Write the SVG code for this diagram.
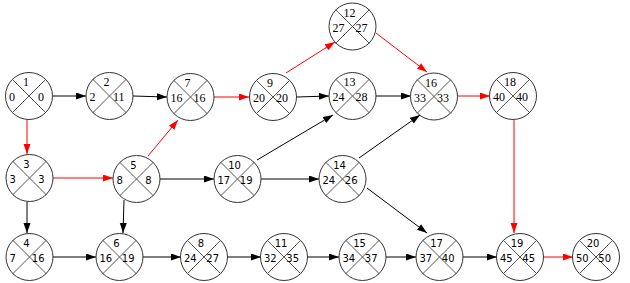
<svg xmlns="http://www.w3.org/2000/svg" xmlns:xlink="http://www.w3.org/1999/xlink" width="630" height="283" viewBox="0 0 630 283">
<style>
.c{fill:#fff;stroke:#333;stroke-width:1}
.d{stroke:#555;stroke-width:1}
text{fill:#000}
.s text{font-family:"Liberation Serif","Times New Roman",serif;font-size:12px}
.n text{font-family:"DejaVu Sans",Verdana,sans-serif;font-size:10px}
.t{text-anchor:middle}
.l{text-anchor:start}
.r{text-anchor:end}
.k{stroke:#000;stroke-width:1;fill:none;marker-end:url(#ak)}
.e{stroke:#f00;stroke-width:1;fill:none;marker-end:url(#ar)}
</style>
<defs>
<marker id="ak" markerUnits="userSpaceOnUse" markerWidth="10" markerHeight="8" refX="10" refY="3.5" orient="auto"><path d="M0,0L10,3.5L0,7z" fill="#000"/></marker>
<marker id="ar" markerUnits="userSpaceOnUse" markerWidth="10" markerHeight="8" refX="10" refY="3.5" orient="auto"><path d="M0,0L10,3.5L0,7z" fill="#f00"/></marker>
<g id="shape"><circle class="c" r="23.5"/><line class="d" x1="-17" y1="-17" x2="17" y2="17"/><line class="d" x1="17" y1="-17" x2="-17" y2="17"/></g>
</defs>
<rect width="630" height="283" fill="#fff"/>
<g id="connectors">
<line class="k" x1="53" y1="96" x2="86" y2="96"/>
<line class="k" x1="133" y1="96" x2="167" y2="97"/>
<line class="e" x1="214" y1="97" x2="249" y2="97"/>
<line class="e" x1="286" y1="73" x2="335" y2="42"/>
<line class="k" x1="297" y1="97" x2="329" y2="96"/>
<line class="e" x1="376" y1="33" x2="427" y2="72"/>
<line class="k" x1="376" y1="96" x2="411" y2="96"/>
<line class="e" x1="457" y1="96" x2="490" y2="96"/>
<line class="e" x1="514" y1="120" x2="514" y2="233"/>
<line class="e" x1="543" y1="257" x2="573" y2="257"/>
<line class="e" x1="27" y1="120" x2="27" y2="154"/>
<line class="e" x1="53" y1="178" x2="113" y2="178"/>
<line class="e" x1="148" y1="156" x2="178" y2="120"/>
<line class="k" x1="27" y1="202" x2="27" y2="233"/>
<line class="k" x1="124" y1="200" x2="123" y2="233"/>
<line class="k" x1="53" y1="257" x2="96" y2="257"/>
<line class="k" x1="143" y1="257" x2="181" y2="257"/>
<line class="k" x1="227" y1="257" x2="261" y2="257"/>
<line class="k" x1="307" y1="257" x2="339" y2="257"/>
<line class="k" x1="386" y1="257" x2="416" y2="257"/>
<line class="k" x1="463" y1="257" x2="497" y2="257"/>
<line class="k" x1="160" y1="179" x2="214" y2="179"/>
<line class="k" x1="261" y1="179" x2="319" y2="179"/>
<line class="k" x1="257" y1="160" x2="333" y2="115"/>
<line class="k" x1="359" y1="158" x2="420" y2="115"/>
<line class="k" x1="367" y1="188" x2="427" y2="233"/>
</g>
<g id="n1" class="s" transform="translate(29,96)"><use xlink:href="#shape"/><text class="t" x="-3" y="-10">1</text><text class="l" x="-20" y="5">0</text><text class="r" x="15" y="5">0</text></g>
<g id="n2" class="s" transform="translate(109.5,96)"><use xlink:href="#shape"/><text class="t" x="-3" y="-10">2</text><text class="l" x="-20" y="5">2</text><text class="r" x="15" y="5">11</text></g>
<g id="n7" class="s" transform="translate(190.5,97)"><use xlink:href="#shape"/><text class="t" x="-3" y="-10">7</text><text class="l" x="-20" y="5">16</text><text class="r" x="15" y="5">16</text></g>
<g id="n9" class="s" transform="translate(273,97)"><use xlink:href="#shape"/><text class="t" x="-3" y="-10">9</text><text class="l" x="-20" y="5">20</text><text class="r" x="15" y="5">20</text></g>
<g id="n12" class="s" transform="translate(352.5,26.5)"><use xlink:href="#shape"/><text class="t" x="-3" y="-10">12</text><text class="l" x="-20" y="5">27</text><text class="r" x="15" y="5">27</text></g>
<g id="n13" class="s" transform="translate(352.5,96)"><use xlink:href="#shape"/><text class="t" x="-3" y="-10">13</text><text class="l" x="-20" y="5">24</text><text class="r" x="15" y="5">28</text></g>
<g id="n16" class="s" transform="translate(434,96.5)"><use xlink:href="#shape"/><text class="t" x="-3" y="-10">16</text><text class="l" x="-20" y="5">33</text><text class="r" x="15" y="5">33</text></g>
<g id="n18" class="s" transform="translate(513,96)"><use xlink:href="#shape"/><text class="t" x="-3" y="-10">18</text><text class="l" x="-20" y="5">40</text><text class="r" x="15" y="5">40</text></g>
<g id="n3" class="n" transform="translate(29.5,178)"><use xlink:href="#shape"/><text class="t" x="-3" y="-10">3</text><text class="l" x="-20" y="5">3</text><text class="r" x="15" y="5">3</text></g>
<g id="n5" class="n" transform="translate(136.5,179)"><use xlink:href="#shape"/><text class="t" x="-3" y="-10">5</text><text class="l" x="-20" y="5">8</text><text class="r" x="15" y="5">8</text></g>
<g id="n10" class="n" transform="translate(237.5,179)"><use xlink:href="#shape"/><text class="t" x="-3" y="-10">10</text><text class="l" x="-20" y="5">17</text><text class="r" x="15" y="5">19</text></g>
<g id="n14" class="n" transform="translate(342.5,179)"><use xlink:href="#shape"/><text class="t" x="-3" y="-10">14</text><text class="l" x="-20" y="5">24</text><text class="r" x="15" y="5">26</text></g>
<g id="n4" class="n" transform="translate(29.5,257)"><use xlink:href="#shape"/><text class="t" x="-3" y="-10">4</text><text class="l" x="-20" y="5">7</text><text class="r" x="15" y="5">16</text></g>
<g id="n6" class="n" transform="translate(119.5,257)"><use xlink:href="#shape"/><text class="t" x="-3" y="-10">6</text><text class="l" x="-20" y="5">16</text><text class="r" x="15" y="5">19</text></g>
<g id="n8" class="n" transform="translate(204,257)"><use xlink:href="#shape"/><text class="t" x="-3" y="-10">8</text><text class="l" x="-20" y="5">24</text><text class="r" x="15" y="5">27</text></g>
<g id="n11" class="n" transform="translate(284,257)"><use xlink:href="#shape"/><text class="t" x="-3" y="-10">11</text><text class="l" x="-20" y="5">32</text><text class="r" x="15" y="5">35</text></g>
<g id="n15" class="n" transform="translate(362.5,257)"><use xlink:href="#shape"/><text class="t" x="-3" y="-10">15</text><text class="l" x="-20" y="5">34</text><text class="r" x="15" y="5">37</text></g>
<g id="n17" class="n" transform="translate(439.5,257)"><use xlink:href="#shape"/><text class="t" x="-3" y="-10">17</text><text class="l" x="-20" y="5">37</text><text class="r" x="15" y="5">40</text></g>
<g id="n19" class="n" transform="translate(520,257)"><use xlink:href="#shape"/><text class="t" x="-3" y="-10">19</text><text class="l" x="-20" y="5">45</text><text class="r" x="15" y="5">45</text></g>
<g id="n20" class="n" transform="translate(596,257)"><use xlink:href="#shape"/><text class="t" x="-3" y="-10">20</text><text class="l" x="-20" y="5">50</text><text class="r" x="15" y="5">50</text></g>
</svg>
